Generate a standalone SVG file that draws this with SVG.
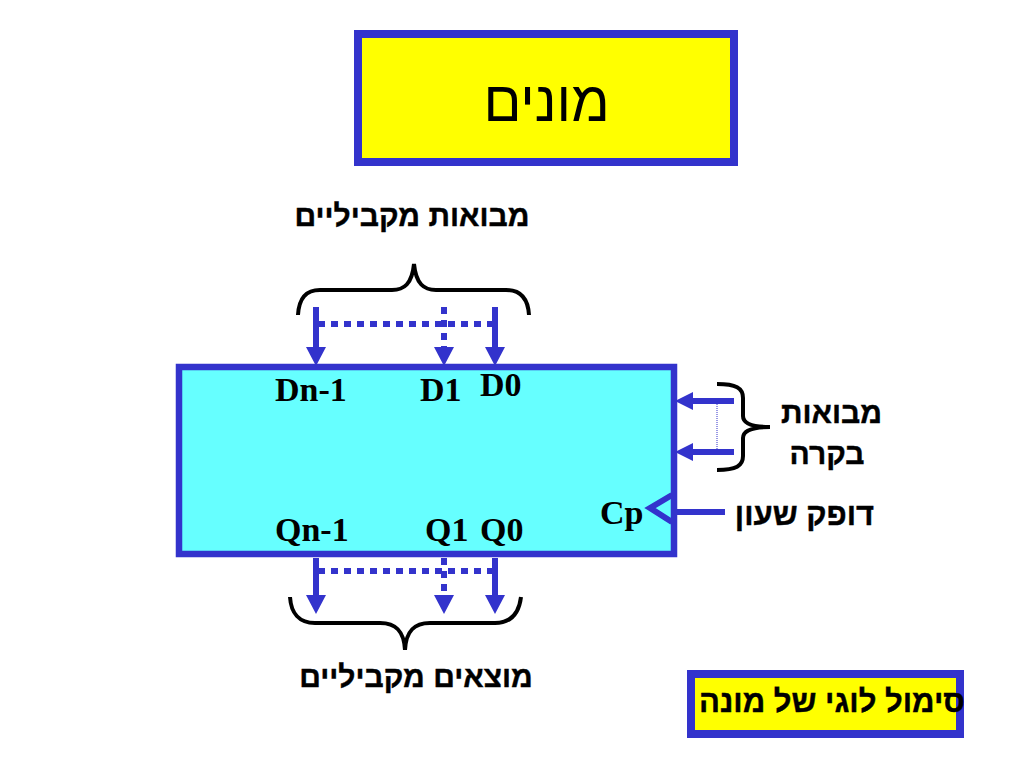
<svg xmlns="http://www.w3.org/2000/svg" width="1024" height="768" viewBox="0 0 1024 768">
<style>
.he{font-family:"Liberation Sans",sans-serif;fill:#000;text-anchor:middle;direction:rtl}
.b{font-weight:bold;font-size:30px;stroke:#000;stroke-width:.4}
.lat{font-family:"Liberation Serif",serif;font-weight:bold;font-size:34px;fill:#000}
.box{stroke:#3333cc;stroke-width:8}
.w{stroke:#3333cc;stroke-width:6;fill:none}
.d{stroke:#3333cc;stroke-width:6;fill:none;stroke-dasharray:7 6}
.br{stroke:#000;stroke-width:4;fill:none}
.h{fill:#3333cc}
</style>
<rect width="1024" height="768" fill="#fff"/>
<g id="title"><rect class="box" x="358" y="34" width="376" height="128" fill="#ffff00"/><text class="he" x="546.500" y="121" font-size="56">מונים</text></g>
<g id="counter"><rect x="179" y="367" width="495" height="187" fill="#66ffff" stroke="#3333cc" stroke-width="6.500"/>
<text class="lat" x="275" y="401">Dn-1</text><text class="lat" x="420" y="401">D1</text><text class="lat" x="480" y="396">D0</text>
<text class="lat" x="275" y="541">Qn-1</text><text class="lat" x="425" y="541">Q1</text><text class="lat" x="480" y="541">Q0</text>
<text class="lat" x="600" y="524">Cp</text></g>
<g id="parallel-inputs-label"><text class="he b" x="412" y="226">מבואות מקביליים</text></g>
<g id="parallel-outputs-label"><text class="he b" x="416" y="687">מוצאים מקביליים</text></g>
<g id="control-inputs-label"><text class="he b" x="831.500" y="423">מבואות</text><text class="he b" x="827" y="464">בקרה</text></g>
<g id="clock-label"><text class="he b" x="804.500" y="525" style="font-size:31px">דופק שעון</text></g>
<g id="symbol-caption"><rect class="box" x="691" y="674" width="269" height="60" fill="#ffff00"/><text class="he b" x="832" y="712" style="font-size:31px">סימול לוגי של מונה</text></g>
<g id="connectors">
<path class="br" d="M298 315C299 298 306 290 320 290H392C404 290 412 284 414 264C416 284 424 290 436 290H506C520 290 528 298 529 315"/>
<path class="br" d="M290 597C291 613 299 623 315 623H380C396 623 404 631 405 650C406 631 414 623 430 623H495C511 623 519 613 521 597"/>
<path class="br" d="M717 384C736 384 743 388 743 398V416C743 423 750 427 770 427C750 427 743 431 743 438V456C743 466 736 470 717 470"/>
<path class="w" d="M316 307V350M495 307V350M316 558V596M495 558V596M683 401H734M683 452H734"/>
<path class="d" d="M318 324H494M444 307V350M318 571H494M444 558V596"/>
<path d="M717 404V449" stroke="#3333cc" stroke-width="1" stroke-dasharray="1 1" fill="none"/>
<path class="h" d="M306 347H326L316 366ZM434 347H454L444 366ZM485 347H505L495 366ZM306 595H326L316 614ZM434 595H454L444 614ZM485 595H505L495 614ZM693 392V410L675 401ZM693 443V461L675 452Z"/>
<path class="w" d="M672 495L650 508L672 522M675 512H725" stroke-width="7"/>
</g>
</svg>
